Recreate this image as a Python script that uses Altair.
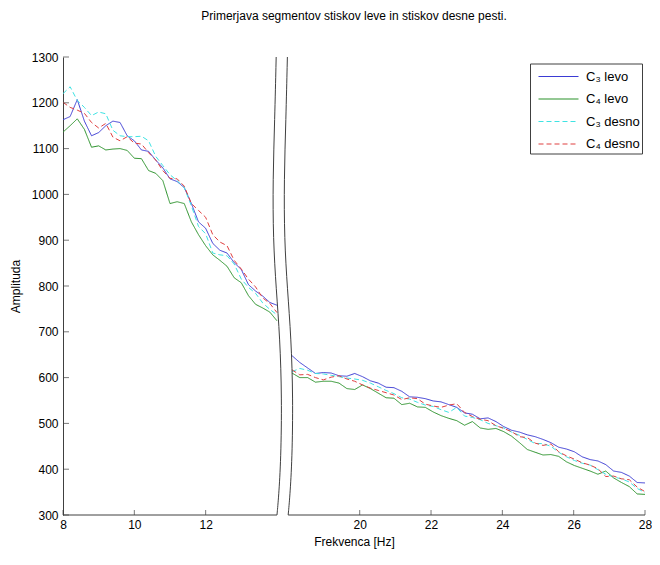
import altair as alt
import pandas as pd

# ---------------- data ----------------
FREQ_LEFT = [8.0, 8.2, 8.4, 8.6, 8.8, 9.0, 9.2, 9.4, 9.6, 9.8, 10.0, 10.2, 10.4, 10.6, 10.8,
             11.0, 11.2, 11.4, 11.6, 11.8, 12.0, 12.2, 12.4, 12.6, 12.8, 13.0, 13.2, 13.4,
             13.6, 13.8, 14.0]
FREQ_RIGHT = [18.10, 18.32, 18.54, 18.76, 18.98, 19.20, 19.42, 19.64, 19.86, 20.08, 20.30,
              20.52, 20.74, 20.96, 21.18, 21.40, 21.62, 21.84, 22.06, 22.28, 22.50, 22.72,
              22.94, 23.16, 23.38, 23.60, 23.82, 24.04, 24.26, 24.48, 24.70, 24.92, 25.14,
              25.36, 25.58, 25.80, 26.02, 26.24, 26.46, 26.68, 26.90, 27.12, 27.34, 27.56,
              27.78, 28.00]

C3_LEVO_LEFT = [1163, 1170, 1207, 1160, 1128, 1135, 1150, 1160, 1157, 1128, 1117, 1097, 1094,
                1075, 1058, 1034, 1028, 1015, 980, 940, 926, 893, 878, 872, 851, 836, 803, 789,
                778, 764, 758]
C4_LEVO_LEFT = [1136, 1150, 1165, 1142, 1103, 1106, 1097, 1099, 1100, 1096, 1079, 1078, 1052,
                1046, 1030, 980, 984, 980, 940, 912, 888, 868, 856, 843, 818, 807, 779, 760,
                752, 743, 724]
C3_DESNO_LEFT = [1220, 1235, 1205, 1190, 1172, 1180, 1176, 1140, 1128, 1126, 1126, 1127, 1117,
                 1083, 1063, 1043, 1030, 1015, 975, 930, 914, 872, 868, 866, 848, 815, 797, 784,
                 763, 749, 737]
C4_DESNO_LEFT = [1201, 1190, 1184, 1177, 1157, 1145, 1155, 1125, 1117, 1126, 1112, 1110, 1091,
                 1075, 1052, 1035, 1034, 1018, 980, 965, 950, 912, 896, 888, 856, 837, 815, 798,
                 774, 762, 742]

C3_LEVO_RIGHT = [648, 633, 621, 609, 611, 610, 604, 603, 609, 602, 593, 588, 579, 578, 570, 558,
                 557, 554, 549, 547, 541, 535, 523, 520, 510, 512, 504, 493, 485, 481, 475, 471,
                 465, 458, 448, 444, 438, 427, 421, 418, 410, 396, 393, 385, 371, 370]
C4_LEVO_RIGHT = [610, 600, 600, 590, 592, 592, 588, 576, 574, 584, 576, 566, 556, 555, 541, 544,
                 536, 535, 525, 517, 511, 506, 496, 504, 490, 487, 489, 482, 472, 458, 443, 437,
                 431, 432, 428, 416, 408, 402, 396, 389, 396, 381, 371, 362, 346, 345]
C3_DESNO_RIGHT = [613, 620, 616, 609, 608, 605, 602, 599, 597, 594, 588, 580, 572, 565, 556, 553,
                  546, 540, 537, 530, 524, 535, 516, 513, 508, 500, 495, 490, 481, 474, 465, 456,
                  456, 450, 437, 427, 419, 413, 409, 399, 389, 383, 379, 372, 358, 349]
C4_DESNO_RIGHT = [617, 606, 607, 600, 595, 601, 604, 597, 592, 584, 577, 572, 567, 562, 552, 556,
                  554, 542, 538, 535, 540, 543, 524, 515, 509, 506, 495, 489, 482, 471, 469, 457,
                  452, 455, 438, 429, 422, 414, 409, 401, 384, 385, 379, 377, 361, 351]

SERIES = ["C\u2083 levo", "C\u2084 levo", "C\u2083 desno", "C\u2084 desno"]
COLORS = ["#3b3bd4", "#2a922a", "#3fe3e3", "#e04040"]
DASHES = [[1, 0], [1, 0], [5, 3], [5, 3]]

X_TICKS_HZ = [8, 10, 12, 20, 22, 24, 26, 28]
Y_TICKS = [300, 400, 500, 600, 700, 800, 900, 1000, 1100, 1200, 1300]
X_SHIFT = 3.68          # right segment (18-28 Hz) is drawn shifted left by this amount
Y_MIN, Y_MAX = 300, 1300

# axis-break marker (display x, amplitude)
BREAK_AMP = [1300, 1162, 1032, 902, 794, 686, 556, 422, 339, 300]
BREAK_X = [13.978, 13.936, 13.885, 13.894, 13.978, 14.083, 14.136, 14.111, 14.047, 14.0]
BREAK_GAP = 0.314

TITLE = "Primerjava segmentov stiskov leve in stiskov desne pesti."
FONT = "Liberation Sans"
AX = "#404040"

# ---------------- tables ----------------
def disp(f):
    return f if f < 16 else round(f - X_SHIFT, 4)

rows = []
left_sets = [C3_LEVO_LEFT, C4_LEVO_LEFT, C3_DESNO_LEFT, C4_DESNO_LEFT]
right_sets = [C3_LEVO_RIGHT, C4_LEVO_RIGHT, C3_DESNO_RIGHT, C4_DESNO_RIGHT]
for name, lv, rv in zip(SERIES, left_sets, right_sets):
    for f, a in zip(FREQ_LEFT, lv):
        rows.append({"series": name, "seg": "a", "disp": disp(f), "amp": a})
    for f, a in zip(FREQ_RIGHT, rv):
        rows.append({"series": name, "seg": "b", "disp": disp(f), "amp": a})
df = pd.DataFrame(rows)

brk_rows = []
for side, off in (("l", 0.0), ("r", BREAK_GAP)):
    for i, (bx, ba) in enumerate(zip(BREAK_X, BREAK_AMP)):
        brk_rows.append({"side": side, "idx": i, "disp": bx + off, "amp": ba})
df_break = pd.DataFrame(brk_rows)

x_max = 28 - X_SHIFT
df_base = pd.DataFrame({
    "disp": [8.0, BREAK_X[-1] + BREAK_GAP],
    "disp2": [BREAK_X[-1], x_max],
    "amp": [Y_MIN, Y_MIN],
})
x_tick_disp = [disp(v) for v in X_TICKS_HZ]
df_xt = pd.DataFrame({"disp": x_tick_disp, "amp": [Y_MIN] * len(x_tick_disp)})
df_yt = pd.DataFrame({"disp": [8.0] * len(Y_TICKS), "amp": Y_TICKS})

# ---------------- encodings ----------------
xscale = alt.Scale(domain=[8.0, x_max], nice=False, zero=False)
yscale = alt.Scale(domain=[Y_MIN, Y_MAX], nice=False, zero=False)
label_expr = f"datum.value < 15 ? format(datum.value, 'd') : format(datum.value + {X_SHIFT}, '.0f')"

def X():
    return alt.X("disp:Q", scale=xscale, title="Frekvenca [Hz]",
                 axis=alt.Axis(values=x_tick_disp, labelExpr=label_expr, ticks=False,
                               domain=False, grid=False, labelFlush=False, labelPadding=4,
                               titlePadding=6))

def Y():
    return alt.Y("amp:Q", scale=yscale, title="Amplituda",
                 axis=alt.Axis(values=Y_TICKS, ticks=False, domain=True, domainColor=AX,
                               grid=False, labelFlush=False, labelPadding=5, titlePadding=9,
                               format="d"))

# long stroke legend symbol (unit path scaled by sqrt(size)/2 = 10 px)
legend = alt.Legend(title=None, orient="none", legendX=467, legendY=6.5,
                    symbolType="M-0.45,0H3.55", symbolSize=400, symbolStrokeWidth=1.1,
                    labelFontSize=13, labelFont=FONT, labelOffset=32, labelColor="black",
                    strokeColor=AX, fillColor="white", padding=2, rowPadding=4.5)

lines = alt.Chart(df).mark_line(strokeWidth=1).encode(
    x=X(), y=Y(),
    color=alt.Color("series:N", scale=alt.Scale(domain=SERIES, range=COLORS), legend=legend),
    strokeDash=alt.StrokeDash("series:N", scale=alt.Scale(domain=SERIES, range=DASHES),
                              legend=legend),
    detail="seg:N",
)

breaks = alt.Chart(df_break).mark_line(color=AX, strokeWidth=1, interpolate="basis").encode(
    x=X(), y=Y(), detail="side:N", order="idx:Q")

base_line = alt.Chart(df_base).mark_rule(color=AX, strokeWidth=1).encode(
    x=X(), x2="disp2:Q", y=Y())

xticks = alt.Chart(df_xt).mark_tick(orient="vertical", size=5, thickness=1, color=AX,
                                    yOffset=-2.5).encode(x=X(), y=Y())
yticks = alt.Chart(df_yt).mark_tick(orient="horizontal", size=6, thickness=1, color=AX,
                                    xOffset=3).encode(x=X(), y=Y())

chart = alt.layer(lines, breaks, base_line, xticks, yticks).properties(
    width=582, height=458,
    background="white",
    title=alt.TitleParams(TITLE, fontSize=12, fontWeight="normal", font=FONT, offset=28,
                          anchor="middle", color="black"),
    padding={"left": 55, "top": 49, "right": 7, "bottom": 37},
    autosize=alt.AutoSizeParams(type="none"),
).configure_view(stroke=None).configure_axis(
    labelFont=FONT, titleFont=FONT, labelFontSize=12, titleFontSize=12,
    titleFontWeight="normal", labelColor="black", titleColor="black",
)

chart.save("out.html", embed_options={"renderer": "svg", "actions": False})
